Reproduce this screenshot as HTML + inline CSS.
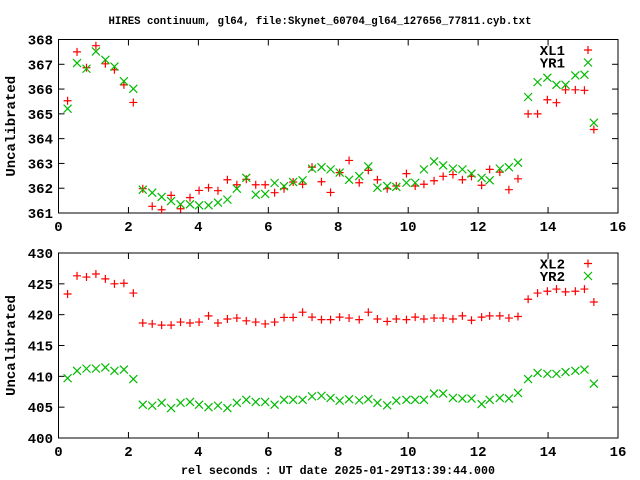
<!DOCTYPE html>
<html><head><meta charset="utf-8"><style>body{margin:0;background:#fff}svg{display:block}</style></head>
<body>
<svg id="c" width="640" height="480" xmlns="http://www.w3.org/2000/svg" font-family="Liberation Mono, monospace" font-weight="bold">
<rect width="640" height="480" fill="#fff"/>
<text x="320" y="24" text-anchor="middle" font-size="11" textLength="423" lengthAdjust="spacingAndGlyphs">HIRES continuum, gl64, file:Skynet_60704_gl64_127656_77811.cyb.txt</text>
<text x="338" y="474" text-anchor="middle" font-size="12" textLength="314" lengthAdjust="spacingAndGlyphs">rel seconds : UT date 2025-01-29T13:39:44.000</text>
<g id="g"></g>
</svg>
<script>
const xs=[0.26,0.53,0.80,1.07,1.34,1.60,1.87,2.14,2.41,2.68,2.95,3.22,3.49,3.76,4.02,4.29,4.56,4.83,5.10,5.37,5.64,5.91,6.18,6.45,6.71,6.98,7.25,7.52,7.78,8.04,8.31,8.60,8.86,9.12,9.40,9.66,9.95,10.20,10.45,10.74,11.00,11.28,11.55,11.81,12.10,12.33,12.62,12.88,13.14,13.43,13.70,13.98,14.24,14.50,14.78,15.04,15.31];
const xl1=[365.53,367.5,366.86,367.75,367.02,366.78,366.17,365.46,361.98,361.27,361.13,361.71,361.17,361.62,361.91,362.02,361.9,362.34,362.14,362.36,362.14,362.14,361.82,361.98,362.25,362.16,362.85,362.26,361.83,362.63,363.12,362.22,362.72,362.34,361.98,362.09,362.59,362.09,362.16,362.3,362.48,362.55,362.34,362.48,362.12,362.76,362.65,361.94,362.38,365.0,365.0,365.57,365.45,365.97,365.97,365.95,364.37];
const yr1=[365.21,367.05,366.82,367.52,367.18,366.91,366.32,366.01,361.94,361.82,361.65,361.48,361.35,361.35,361.31,361.31,361.42,361.54,361.98,362.42,361.74,361.77,362.21,362.08,362.25,362.32,362.79,362.85,362.76,362.63,362.34,362.49,362.88,362.02,362.09,362.05,362.22,362.22,362.76,363.08,362.92,362.79,362.76,362.59,362.42,362.32,362.79,362.85,363.03,365.68,366.28,366.46,366.17,366.17,366.55,366.58,364.64];
const xl2=[423.35,426.3,426.1,426.6,425.8,425.0,425.1,423.5,418.65,418.5,418.3,418.3,418.8,418.65,418.8,419.8,418.65,419.3,419.45,419.0,418.8,418.5,418.8,419.55,419.55,420.4,419.6,419.2,419.2,419.6,419.45,419.2,420.4,419.3,418.9,419.3,419.2,419.6,419.3,419.45,419.45,419.3,419.8,419.1,419.6,419.8,419.8,419.45,419.7,422.5,423.5,423.8,424.15,423.7,423.8,424.15,422.05];
const yr2=[409.7,410.9,411.25,411.25,411.45,410.9,411.1,409.55,405.4,405.25,405.7,404.85,405.7,405.85,405.4,405.0,405.25,404.85,405.7,406.2,405.85,405.85,405.4,406.2,406.2,406.2,406.75,406.85,406.5,406.05,406.3,406.1,406.3,405.7,405.3,406.05,406.2,406.2,406.2,407.2,407.2,406.5,406.4,406.4,405.5,406.2,406.5,406.4,407.3,409.55,410.55,410.4,410.4,410.7,410.9,411.1,408.8];
const xTicks=[0,2,4,6,8,10,12,14,16];
const yTicks1=[361,362,363,364,365,366,367,368];
const yTicks2=[400,405,410,415,420,425,430];
const NS='http://www.w3.org/2000/svg';
const G=document.getElementById('g');
function mk(t,a,p){const e=document.createElementNS(NS,t);for(const k in a)e.setAttribute(k,a[k]);(p||G).appendChild(e);return e;}
const L=58.5,R=618;
function panel(name,top,bot,ymin,ymax,yt,s1,s2,n1,n2){
  const g=mk('g',{});
  
  
  const X=v=>L+(v-0)/16*(R-L), Y=v=>bot-(v-ymin)/(ymax-ymin)*(bot-top);
  const fr=mk('rect',{x:L,y:top,width:R-L,height:bot-top,fill:'none',stroke:'#000','stroke-width':1},g);
  
  
  xTicks.forEach(t=>{const x=X(t);
    mk('line',{x1:x,y1:bot,x2:x,y2:bot-6,stroke:'#000'},g);
    mk('line',{x1:x,y1:top,x2:x,y2:top+6,stroke:'#000'},g);
    const tx=mk('text',{x:x,y:bot+18,'text-anchor':'middle','font-size':14},g);
    
    
    tx.textContent=t;});
  yt.forEach(t=>{const y=Y(t);
    mk('line',{x1:L,y1:y,x2:L+6,y2:y,stroke:'#000'},g);
    mk('line',{x1:R,y1:y,x2:R-6,y2:y,stroke:'#000'},g);
    const tx=mk('text',{x:53,y:y+5,'text-anchor':'end','font-size':14},g);
    
    
    tx.textContent=t;});
  const yl=mk('text',{x:0,y:0,'text-anchor':'middle','font-size':14,transform:`translate(15,${(top+bot)/2}) rotate(-90)`},g);
  
  
  yl.textContent='Uncalibrated';
  const plus=(x,y,p)=>{mk('path',{d:`M${x-4},${y}H${x+4}M${x},${y-4}V${y+4}`,stroke:'#f00','stroke-width':1.2,fill:'none'},p);};
  const cross=(x,y,p)=>{mk('path',{d:`M${x-4},${y-4}L${x+4},${y+4}M${x-4},${y+4}L${x+4},${y-4}`,stroke:'#0b0','stroke-width':1.2,fill:'none'},p);};
  const ga=mk('g',{},g);
  const gb=mk('g',{},g);
  xs.forEach((v,i)=>{plus(X(v),Y(s1[i]),ga);cross(X(v),Y(s2[i]),gb);});
  const lg=mk('g',{},g);
  [[n1,0],[n2,1]].forEach(([n,k])=>{const y=top+10.5+k*12.5;
    const t=mk('text',{x:565,y:y+5,'text-anchor':'end','font-size':14},lg);
    
    t.textContent=n; k?cross(588,y,lg):plus(588,y,lg);});
}
panel('top-panel',39.5,213,361,368,yTicks1,xl1,yr1,'XL1','YR1');
panel('bottom-panel',253,438,400,430,yTicks2,xl2,yr2,'XL2','YR2');
</script>
</body></html>
